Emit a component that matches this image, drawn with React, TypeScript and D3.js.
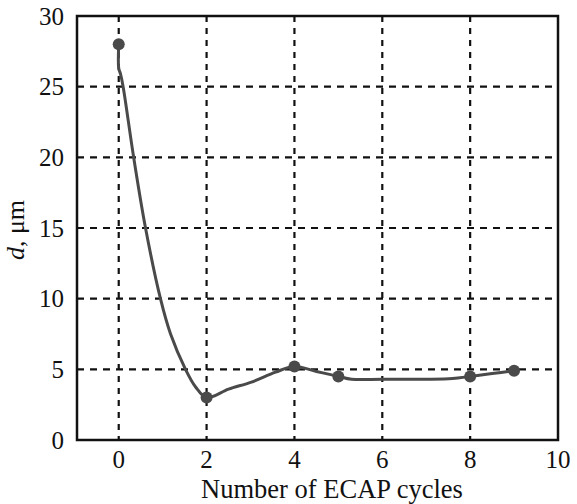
import React from "react";
import * as d3 from "d3";

// Measured points (markers)
const cycles = [0, 2, 4, 5, 8, 9];
const grainSize = [28, 3.0, 5.2, 4.5, 4.5, 4.9];

// Smoothed trend curve
const trendX = [0, 0, 0.04, 0.1, 0.34, 0.61, 0.95, 1.18, 1.52, 1.75, 2, 2.5, 3.02, 3.57, 4, 4.5, 5, 5.3, 6, 7, 7.6, 8, 8.5, 9];
const trendY = [28, 26.3, 25.9, 25, 20, 15, 10, 7.5, 5, 3.75, 3.0, 3.6, 4.1, 4.8, 5.2, 4.85, 4.5, 4.3, 4.3, 4.3, 4.35, 4.5, 4.7, 4.9];

const xTicks = [0, 2, 4, 6, 8, 10];
const yTicks = [0, 5, 10, 15, 20, 25, 30];
const xGrid = [0, 2, 4, 6, 8];
const yGrid = [5, 10, 15, 20, 25];

export default function App() {
  const W = 577, H = 504;
  const left = 77, right = 558, top = 16, bottom = 440;
  const x = d3.scaleLinear().domain([-0.95, 10]).range([left, right]);
  const y = d3.scaleLinear().domain([0, 30]).range([bottom, top]);
  const pts = trendX.map((v, i) => [v, trendY[i]] as [number, number]);
  const line = d3.line<[number, number]>().x(d => x(d[0])).y(d => y(d[1])).curve(d3.curveCatmullRom.alpha(0.5));
  const font = "'Liberation Serif', 'Times New Roman', serif";
  const col = "#4a4a4a";
  return (
    <svg width={W} height={H} style={{ position: "absolute", left: 0, top: 0, background: "#fff" }}>
      {xGrid.map(v => (
        <line key={"gx" + v} x1={x(v)} x2={x(v)} y1={top} y2={bottom} stroke="#111" strokeWidth={2.2} strokeDasharray="6,6" />
      ))}
      {yGrid.map(v => (
        <line key={"gy" + v} x1={left} x2={right} y1={y(v)} y2={y(v)} stroke="#111" strokeWidth={2.2} strokeDasharray="7,6" />
      ))}
      <path d={line(pts) || ""} fill="none" stroke={col} strokeWidth={3} />
      {cycles.map((c, i) => (
        <circle key={"m" + i} cx={x(c)} cy={y(grainSize[i])} r={6} fill={col} />
      ))}
      <rect x={left} y={top} width={right - left} height={bottom - top} fill="none" stroke="#111" strokeWidth={2.5} />
      {yTicks.map(v => (
        <text key={"yt" + v} x={64} y={y(v) + 8.5} textAnchor="end" fontFamily={font} fontSize={25} fill="#111">{v}</text>
      ))}
      {xTicks.map(v => (
        <text key={"xt" + v} x={x(v)} y={468} textAnchor="middle" fontFamily={font} fontSize={25} fill="#111">{v}</text>
      ))}
      <text x={332} y={498} textAnchor="middle" fontFamily={font} fontSize={26.5} fill="#111">Number of ECAP cycles</text>
      <text transform={`translate(24,230) rotate(-90)`} textAnchor="middle" fontFamily={font} fontSize={26} fill="#111">
        <tspan fontStyle="italic">d</tspan>, μm
      </text>
    </svg>
  );
}
